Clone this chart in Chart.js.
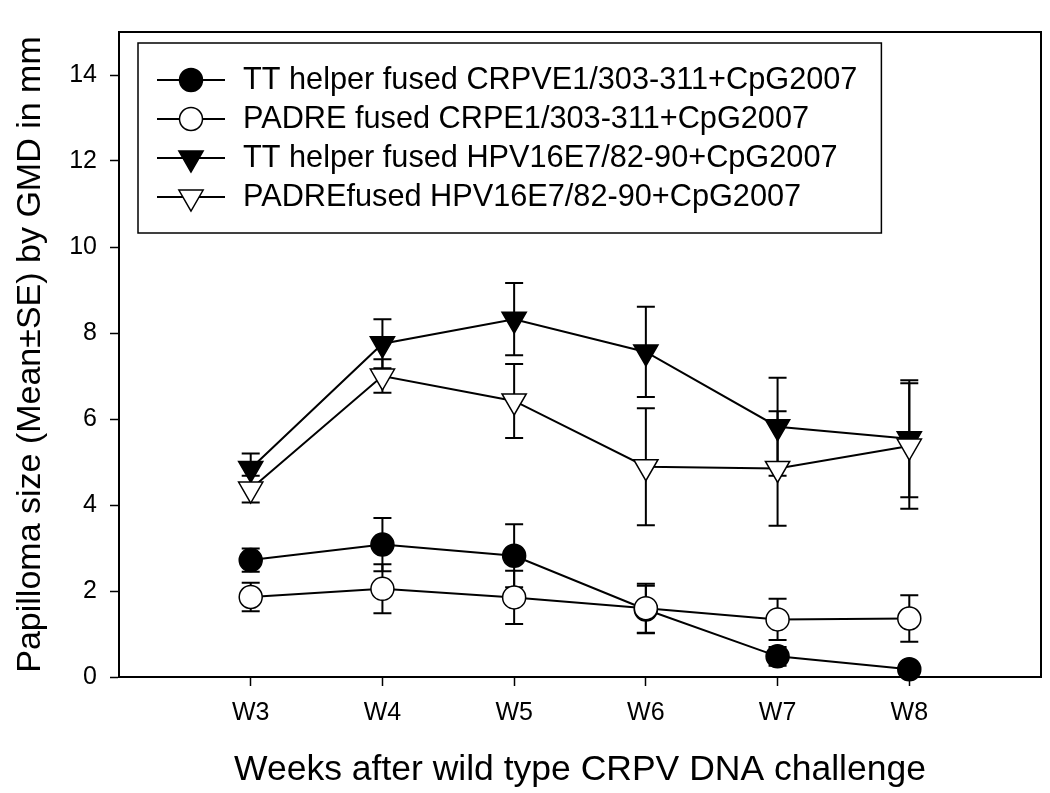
<!DOCTYPE html>
<html>
<head>
<meta charset="utf-8">
<script src="https://cdn.jsdelivr.net/npm/chart.js@4.4.1/dist/chart.umd.min.js"></script>
<style>
  html, body { margin: 0; padding: 0; background: #fff; }
  canvas { display: block; }
</style>
</head>
<body>
<canvas id="chart" width="1050" height="793"></canvas>
<script>
const weeks = ['W3', 'W4', 'W5', 'W6', 'W7', 'W8']
const weekPos = [3, 4, 5, 6, 7, 8]

const seriesLabels = [
    'TT helper fused CRPVE1/303-311+CpG2007',
    'PADRE fused CRPE1/303-311+CpG2007',
    'TT helper fused HPV16E7/82-90+CpG2007',
    'PADREfused HPV16E7/82-90+CpG2007'
]

// mean and SE per week
const ttCrpvMean = [2.72, 3.08, 2.82, 1.57, 0.48, 0.18]
const ttCrpvSE = [0.27, 0.62, 0.73, 0.55, 0.22, 0.12]
const padreCrpvMean = [1.86, 2.05, 1.85, 1.60, 1.34, 1.36]
const padreCrpvSE = [0.33, 0.57, 0.62, 0.57, 0.48, 0.54]
const ttHpvMean = [4.85, 7.75, 8.32, 7.56, 5.82, 5.54]
const ttHpvSE = [0.35, 0.57, 0.84, 1.05, 1.14, 1.36]
const padreHpvMean = [4.37, 7.00, 6.42, 4.89, 4.85, 5.37]
const padreHpvSE = [0.31, 0.39, 0.86, 1.36, 1.33, 1.46]

const yTicks = [0, 2, 4, 6, 8, 10, 12, 14]

const FONT = "'Liberation Sans', Arial, sans-serif"

const toPoints = (mean) => weekPos.map((x, i) => ({ x, y: mean[i] }))

const makeDataset = (label, mean, se, style, filled, order) => ({
    label,
    data: toPoints(mean),
    errors: se,
    order,
    borderColor: '#000',
    borderWidth: 2,
    tension: 0,
    fill: false,
    clip: false,
    pointStyle: style,
    pointRotation: style === 'triangle' ? 180 : 0,
    pointRadius: style === 'triangle' ? 14 : 11.5,
    pointBorderWidth: 1.5,
    pointBorderColor: '#000',
    pointBackgroundColor: filled ? '#000' : '#fff',
    pointHoverRadius: style === 'triangle' ? 14 : 11.5
})

const errorBarsPlugin = {
    id: 'errorBars',
    beforeDatasetDraw: (chart, args) => {
        const ds = chart.data.datasets[args.index]
        const { ctx, scales: { x, y } } = chart
        ctx.save()
        ctx.strokeStyle = '#000'
        ctx.lineWidth = 2
        ds.data.forEach((p, i) => {
            const e = ds.errors[i]
            const px = x.getPixelForValue(p.x)
            const top = y.getPixelForValue(p.y + e)
            const bot = y.getPixelForValue(p.y - e)
            ctx.beginPath()
            ctx.moveTo(px, top)
            ctx.lineTo(px, bot)
            ctx.moveTo(px - 9, top)
            ctx.lineTo(px + 9, top)
            ctx.moveTo(px - 9, bot)
            ctx.lineTo(px + 9, bot)
            ctx.stroke()
        })
        ctx.restore()
    }
}

const framePlugin = {
    id: 'frame',
    beforeDatasetsDraw: (chart) => {
        const { ctx, chartArea: a } = chart
        ctx.save()
        ctx.strokeStyle = '#000'
        ctx.lineWidth = 2
        ctx.strokeRect(a.left, a.top, a.right - a.left, a.bottom - a.top)
        ctx.restore()
    }
}

const legendBoxPlugin = {
    id: 'legendBox',
    afterDatasetsDraw: (chart) => {
        const { ctx, chartArea: a } = chart
        const datasets = chart.data.datasets
        const left = a.left + 19
        const top = a.top + 11
        const rowGap = 39
        ctx.save()
        ctx.font = `30.7px ${FONT}`
        const textW = Math.max(...datasets.map(d => ctx.measureText(d.label).width))
        const w = 105 + textW + 24
        const h = 190
        ctx.fillStyle = '#fff'
        ctx.fillRect(left, top, w, h)
        ctx.strokeStyle = '#000'
        ctx.lineWidth = 1.5
        ctx.strokeRect(left, top, w, h)

        datasets.forEach((d, i) => {
            const cy = top + 37 + i * rowGap
            ctx.strokeStyle = '#000'
            ctx.lineWidth = 2
            ctx.beginPath()
            ctx.moveTo(left + 19, cy)
            ctx.lineTo(left + 87, cy)
            ctx.stroke()
            ctx.fillStyle = d.pointBackgroundColor
            ctx.strokeStyle = '#000'
            ctx.lineWidth = d.pointBorderWidth
            Chart.helpers.drawPoint(ctx, {
                pointStyle: d.pointStyle,
                rotation: d.pointRotation,
                radius: d.pointRadius,
                borderWidth: d.pointBorderWidth
            }, left + 53, cy)
            ctx.fillStyle = '#000'
            ctx.textAlign = 'left'
            ctx.textBaseline = 'middle'
            ctx.fillText(d.label, left + 105, cy + 1)
        })
        ctx.restore()
    }
}

new Chart(document.getElementById('chart').getContext('2d'), {
    type: 'line',
    data: {
        datasets: [
            makeDataset(seriesLabels[0], ttCrpvMean, ttCrpvSE, 'circle', true, 4),
            makeDataset(seriesLabels[1], padreCrpvMean, padreCrpvSE, 'circle', false, 3),
            makeDataset(seriesLabels[2], ttHpvMean, ttHpvSE, 'triangle', true, 2),
            makeDataset(seriesLabels[3], padreHpvMean, padreHpvSE, 'triangle', false, 1)
        ]
    },
    options: {
        responsive: false,
        animation: false,
        events: [],
        layout: { autoPadding: false, padding: { left: 0, right: 9, top: 32, bottom: 0 } },
        plugins: {
            legend: { display: false },
            tooltip: { enabled: false }
        },
        scales: {
            x: {
                type: 'linear',
                min: 2,
                max: 9,
                afterBuildTicks: (scale) => {
                    scale.ticks = weekPos.map(v => ({ value: v }))
                },
                afterFit: (scale) => { scale.height = 116 },
                ticks: {
                    color: '#000',
                    font: { family: FONT, size: 25 },
                    padding: 12,
                    maxRotation: 0,
                    callback: (value) => weeks[weekPos.indexOf(value)] || ''
                },
                grid: {
                    display: true,
                    drawOnChartArea: false,
                    drawTicks: true,
                    tickLength: 9,
                    tickWidth: 1.5,
                    color: '#000'
                },
                border: { display: true, color: '#000', width: 2 },
                title: {
                    display: true,
                    text: 'Weeks after wild type CRPV DNA challenge',
                    color: '#000',
                    font: { family: FONT, size: 35.5 },
                    padding: { top: 0, bottom: 1 }
                }
            },
            y: {
                type: 'linear',
                min: 0,
                max: 15,
                afterBuildTicks: (scale) => {
                    scale.ticks = yTicks.map(v => ({ value: v }))
                },
                afterFit: (scale) => { scale.width = 119 },
                ticks: {
                    color: '#000',
                    font: { family: FONT, size: 25 },
                    padding: 13
                },
                grid: {
                    display: true,
                    drawOnChartArea: false,
                    drawTicks: true,
                    tickLength: 9,
                    tickWidth: 1.5,
                    color: '#000'
                },
                border: { display: true, color: '#000', width: 2 },
                title: {
                    display: true,
                    text: 'Papilloma size (Mean±SE) by GMD in mm',
                    color: '#000',
                    font: { family: FONT, size: 34 },
                    padding: { top: 10, bottom: 0 }
                }
            }
        }
    },
    plugins: [framePlugin, errorBarsPlugin, legendBoxPlugin]
})
</script>
</body>
</html>
